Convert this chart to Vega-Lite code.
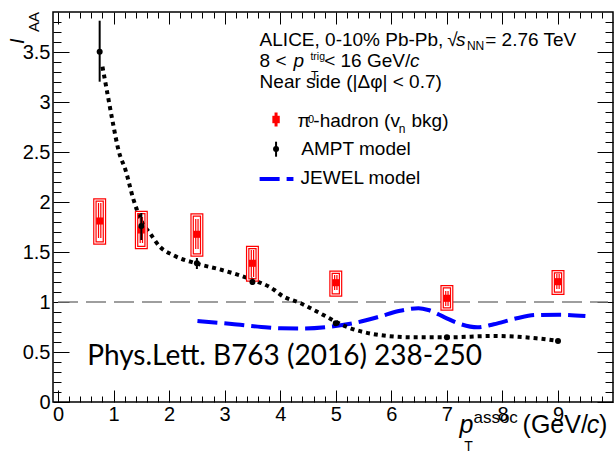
{
  "$schema": "https://vega.github.io/schema/vega-lite/v6.json",
  "width": 560,
  "height": 390,
  "autosize": "none",
  "padding": {"left": 53, "top": 12, "right": 2, "bottom": 51},
  "background": "white",
  "config": {"view": {"stroke": "#000", "strokeWidth": 1.5}, "font": "Liberation Sans"},
  "datasets": {
    "unity": [{"x0": 0, "x1": 9.9, "y": 1}],
    "jewel": [
      {"x": 2.51, "y": 0.81}, {"x": 3.13, "y": 0.78}, {"x": 3.66, "y": 0.75}, {"x": 4.013, "y": 0.737},
      {"x": 4.4, "y": 0.735}, {"x": 4.897, "y": 0.753}, {"x": 5.309, "y": 0.787}, {"x": 5.781, "y": 0.853},
      {"x": 6.134, "y": 0.91}, {"x": 6.488, "y": 0.937}, {"x": 6.665, "y": 0.92}, {"x": 6.96, "y": 0.847},
      {"x": 7.254, "y": 0.777}, {"x": 7.549, "y": 0.747}, {"x": 7.844, "y": 0.777}, {"x": 8.256, "y": 0.837},
      {"x": 8.61, "y": 0.87}, {"x": 9.02, "y": 0.873}, {"x": 9.493, "y": 0.86}
    ],
    "amptCurve": [
      {"x": 0.8, "y": 3.353}, {"x": 0.889, "y": 3.087}, {"x": 0.978, "y": 2.82}, {"x": 1.096, "y": 2.503},
      {"x": 1.215, "y": 2.32}, {"x": 1.361, "y": 2.02}, {"x": 1.508, "y": 1.803}, {"x": 1.656, "y": 1.687},
      {"x": 1.833, "y": 1.553}, {"x": 2.068, "y": 1.47}, {"x": 2.48, "y": 1.387}, {"x": 2.952, "y": 1.32},
      {"x": 3.424, "y": 1.237}, {"x": 3.895, "y": 1.12}, {"x": 4.013, "y": 1.07}, {"x": 4.367, "y": 0.987},
      {"x": 4.72, "y": 0.887}, {"x": 5.192, "y": 0.753}, {"x": 5.781, "y": 0.67}, {"x": 6.37, "y": 0.647},
      {"x": 7.006, "y": 0.647}, {"x": 7.844, "y": 0.66}, {"x": 8.61, "y": 0.637}, {"x": 9.01, "y": 0.61}
    ],
    "red": [
      {"x": 0.75, "y": 1.81, "slo": 1.64, "shi": 1.99, "blo": 1.59, "bhi": 2.02},
      {"x": 1.5, "y": 1.72, "slo": 1.59, "shi": 1.85, "blo": 1.545, "bhi": 1.895},
      {"x": 2.5, "y": 1.677, "slo": 1.53, "shi": 1.83, "blo": 1.47, "bhi": 1.87},
      {"x": 3.5, "y": 1.387, "slo": 1.25, "shi": 1.52, "blo": 1.22, "bhi": 1.545},
      {"x": 5, "y": 1.193, "slo": 1.12, "shi": 1.27, "blo": 1.07, "bhi": 1.297},
      {"x": 7, "y": 1.037, "slo": 0.96, "shi": 1.11, "blo": 0.93, "bhi": 1.153},
      {"x": 9, "y": 1.203, "slo": 1.13, "shi": 1.28, "blo": 1.087, "bhi": 1.303}
    ],
    "ampt": [
      {"x": 0.75, "y": 3.503, "lo": 3.203, "hi": 3.813},
      {"x": 1.5, "y": 1.76, "lo": 1.62, "hi": 1.89},
      {"x": 2.5, "y": 1.387, "lo": 1.33, "hi": 1.44},
      {"x": 3.5, "y": 1.2, "lo": 1.17, "hi": 1.23},
      {"x": 5, "y": 0.787, "lo": 0.77, "hi": 0.8},
      {"x": 7, "y": 0.647, "lo": 0.635, "hi": 0.66},
      {"x": 9, "y": 0.61, "lo": 0.6, "hi": 0.62}
    ],
    "legRed": [{"x": 3.925, "y": 2.825, "lo": 2.755, "hi": 2.895}],
    "legAmpt": [{"x": 3.925, "y": 2.53, "lo": 2.453, "hi": 2.603}],
    "legJewel": [{"x": 3.629, "y": 2.23}, {"x": 4.238, "y": 2.23}],
    "t19": [
      {"x": 3.629, "y": 3.56, "text": "ALICE, 0-10% Pb-Pb,"},
      {"x": 7.006, "y": 3.56, "text": "√"},
      {"x": 7.69, "y": 3.56, "text": "= 2.76 TeV"},
      {"x": 3.629, "y": 3.353, "text": "8 <"},
      {"x": 4.791, "y": 3.353, "text": "< 16 GeV/"},
      {"x": 3.629, "y": 3.137, "text": "Near side (|Δφ| < 0.7)"},
      {"x": 4.309, "y": 2.747, "text": "π"},
      {"x": 4.596, "y": 2.747, "text": "-hadron (v"},
      {"x": 6.364, "y": 2.747, "text": "bkg)"},
      {"x": 4.379, "y": 2.47, "text": "AMPT model"},
      {"x": 4.367, "y": 2.18, "text": "JEWEL model"}
    ],
    "t19i": [
      {"x": 7.165, "y": 3.56, "text": "s"},
      {"x": 4.238, "y": 3.353, "text": "p"},
      {"x": 6.338, "y": 3.353, "text": "c"}
    ],
    "t12": [
      {"x": 7.36, "y": 3.525, "text": "NN"},
      {"x": 4.556, "y": 3.22, "text": "T"},
      {"x": 6.134, "y": 2.693, "text": "n"}
    ],
    "t11": [
      {"x": 4.499, "y": 2.787, "text": "0"}
    ],
    "t10": [
      {"x": 4.543, "y": 3.425, "text": "trig"}
    ],
    "t25": [
      {"x": 8.362, "y": -0.313, "text": "(GeV/"},
      {"x": 9.737, "y": -0.313, "text": ")"}
    ],
    "t25i": [
      {"x": 7.225, "y": -0.313, "text": "p"},
      {"x": 9.517, "y": -0.313, "text": "c"}
    ],
    "t14": [{"x": 7.314, "y": -0.485, "text": "T"}],
    "t17": [{"x": 7.478, "y": -0.213, "text": "assoc"}],
    "tI": [{"x": -0.619, "y": 3.58, "text": "I"}],
    "tAA": [{"x": -0.336, "y": 3.7, "text": "AA"}],
    "tRef": [{"x": 0.525, "y": 0.37, "text": "Phys.Lett. B763 (2016) 238-250"}]
  },
  "layer": [
    {
      "data": {"name": "unity"},
      "mark": {"type": "rule", "color": "#7f7f7f", "strokeWidth": 1.5, "strokeDash": [20, 8]},
      "encoding": {
        "x": {"field": "x0", "type": "quantitative", "scale": {"domain": [0, 9.9], "nice": false, "zero": false},
          "axis": {"orient": "bottom", "title": null, "domain": false, "grid": false,
            "values": [0,0.2,0.4,0.6,0.8,1,1.2,1.4,1.6,1.8,2,2.2,2.4,2.6,2.8,3,3.2,3.4,3.6,3.8,4,4.2,4.4,4.6,4.8,5,5.2,5.4,5.6,5.8,6,6.2,6.4,6.6,6.8,7,7.2,7.4,7.6,7.8,8,8.2,8.4,8.6,8.8,9,9.2,9.4,9.6,9.8],
            "tickSize": {"condition": {"test": "abs(datum.value - round(datum.value)) < 0.001", "value": -12}, "value": -6},
            "tickColor": "#000", "tickWidth": 1,
            "labelExpr": "abs(datum.value - round(datum.value)) < 0.001 ? format(datum.value, 'd') : ''",
            "labelFont": "Liberation Sans", "labelFontSize": 20, "labelColor": "#000", "labelPadding": 14,
            "labelOverlap": false, "labelFlush": false, "labelBound": false}},
        "x2": {"field": "x1"},
        "y": {"field": "y", "type": "quantitative", "scale": {"domain": [0, 3.9], "nice": false, "zero": false},
          "axis": {"orient": "left", "title": null, "domain": false, "grid": false,
            "values": [0,0.1,0.2,0.3,0.4,0.5,0.6,0.7,0.8,0.9,1,1.1,1.2,1.3,1.4,1.5,1.6,1.7,1.8,1.9,2,2.1,2.2,2.3,2.4,2.5,2.6,2.7,2.8,2.9,3,3.1,3.2,3.3,3.4,3.5,3.6,3.7,3.8],
            "tickSize": {"condition": {"test": "abs(datum.value*2 - round(datum.value*2)) < 0.001", "value": -16}, "value": -8},
            "tickColor": "#000", "tickWidth": 1,
            "labelExpr": "abs(datum.value*2 - round(datum.value*2)) < 0.001 ? format(datum.value, '~g') : ''",
            "labelFont": "Liberation Sans", "labelFontSize": 20, "labelColor": "#000", "labelPadding": 19,
            "labelOverlap": false, "labelFlush": false, "labelBound": false}}
      }
    },
    {
      "data": {"name": "jewel"},
      "mark": {"type": "line", "color": "#0000ff", "strokeWidth": 4, "strokeDash": [20, 7], "interpolate": "monotone"},
      "encoding": {
        "x": {"field": "x", "type": "quantitative", "scale": {"domain": [0, 9.9], "nice": false, "zero": false},
          "axis": {"orient": "top", "title": null, "domain": false, "grid": false, "labels": false,
            "values": [0,0.2,0.4,0.6,0.8,1,1.2,1.4,1.6,1.8,2,2.2,2.4,2.6,2.8,3,3.2,3.4,3.6,3.8,4,4.2,4.4,4.6,4.8,5,5.2,5.4,5.6,5.8,6,6.2,6.4,6.6,6.8,7,7.2,7.4,7.6,7.8,8,8.2,8.4,8.6,8.8,9,9.2,9.4,9.6,9.8],
            "tickSize": {"condition": {"test": "abs(datum.value - round(datum.value)) < 0.001", "value": -12}, "value": -6},
            "tickColor": "#000", "tickWidth": 1}},
        "y": {"field": "y", "type": "quantitative", "scale": {"domain": [0, 3.9], "nice": false, "zero": false},
          "axis": {"orient": "right", "title": null, "domain": false, "grid": false, "labels": false,
            "values": [0,0.1,0.2,0.3,0.4,0.5,0.6,0.7,0.8,0.9,1,1.1,1.2,1.3,1.4,1.5,1.6,1.7,1.8,1.9,2,2.1,2.2,2.3,2.4,2.5,2.6,2.7,2.8,2.9,3,3.1,3.2,3.3,3.4,3.5,3.6,3.7,3.8],
            "tickSize": {"condition": {"test": "abs(datum.value*2 - round(datum.value*2)) < 0.001", "value": -16}, "value": -8},
            "tickColor": "#000", "tickWidth": 1}}
      }
    },
    {
      "data": {"name": "amptCurve"},
      "mark": {"type": "line", "color": "#000", "strokeWidth": 4, "strokeDash": [4, 4], "interpolate": "monotone"},
      "encoding": {
        "x": {"field": "x", "type": "quantitative", "scale": {"domain": [0, 9.9], "nice": false, "zero": false}, "axis": null},
        "y": {"field": "y", "type": "quantitative", "scale": {"domain": [0, 3.9], "nice": false, "zero": false}, "axis": null}
      }
    },
    {
      "data": {"name": "red"},
      "mark": {"type": "bar", "filled": false, "stroke": "#ff0000", "strokeWidth": 3.5, "width": 9.5},
      "encoding": {
        "x": {"field": "x", "type": "quantitative", "scale": {"domain": [0, 9.9], "nice": false, "zero": false}, "axis": null},
        "y": {"field": "blo", "type": "quantitative", "scale": {"domain": [0, 3.9], "nice": false, "zero": false}, "axis": null},
        "y2": {"field": "bhi"}
      }
    },
    {
      "data": {"name": "red"},
      "mark": {"type": "bar", "filled": false, "stroke": "#ffffff", "strokeWidth": 1.1, "width": 9.5},
      "encoding": {
        "x": {"field": "x", "type": "quantitative", "scale": {"domain": [0, 9.9], "nice": false, "zero": false}, "axis": null},
        "y": {"field": "blo", "type": "quantitative", "scale": {"domain": [0, 3.9], "nice": false, "zero": false}, "axis": null},
        "y2": {"field": "bhi"}
      }
    },
    {
      "data": {"name": "red"},
      "mark": {"type": "rule", "color": "#ff0000", "strokeWidth": 3.5},
      "encoding": {
        "x": {"field": "x", "type": "quantitative", "scale": {"domain": [0, 9.9], "nice": false, "zero": false}, "axis": null},
        "y": {"field": "slo", "type": "quantitative", "scale": {"domain": [0, 3.9], "nice": false, "zero": false}, "axis": null},
        "y2": {"field": "shi"}
      }
    },
    {
      "data": {"name": "red"},
      "mark": {"type": "rule", "color": "#ffffff", "strokeWidth": 1.1},
      "encoding": {
        "x": {"field": "x", "type": "quantitative", "scale": {"domain": [0, 9.9], "nice": false, "zero": false}, "axis": null},
        "y": {"field": "slo", "type": "quantitative", "scale": {"domain": [0, 3.9], "nice": false, "zero": false}, "axis": null},
        "y2": {"field": "shi"}
      }
    },
    {
      "data": {"name": "red"},
      "mark": {"type": "point", "shape": "square", "filled": true, "color": "#ff0000", "size": 50, "opacity": 1},
      "encoding": {
        "x": {"field": "x", "type": "quantitative", "scale": {"domain": [0, 9.9], "nice": false, "zero": false}, "axis": null},
        "y": {"field": "y", "type": "quantitative", "scale": {"domain": [0, 3.9], "nice": false, "zero": false}, "axis": null}
      }
    },
    {
      "data": {"name": "ampt"},
      "mark": {"type": "rule", "color": "#000", "strokeWidth": 2},
      "encoding": {
        "x": {"field": "x", "type": "quantitative", "scale": {"domain": [0, 9.9], "nice": false, "zero": false}, "axis": null},
        "y": {"field": "lo", "type": "quantitative", "scale": {"domain": [0, 3.9], "nice": false, "zero": false}, "axis": null},
        "y2": {"field": "hi"}
      }
    },
    {
      "data": {"name": "ampt"},
      "mark": {"type": "point", "shape": "circle", "filled": true, "color": "#000", "size": 36, "opacity": 1},
      "encoding": {
        "x": {"field": "x", "type": "quantitative", "scale": {"domain": [0, 9.9], "nice": false, "zero": false}, "axis": null},
        "y": {"field": "y", "type": "quantitative", "scale": {"domain": [0, 3.9], "nice": false, "zero": false}, "axis": null}
      }
    },
    {
      "data": {"name": "legRed"},
      "mark": {"type": "rule", "color": "#ff0000", "strokeWidth": 3},
      "encoding": {
        "x": {"field": "x", "type": "quantitative", "scale": {"domain": [0, 9.9], "nice": false, "zero": false}, "axis": null},
        "y": {"field": "lo", "type": "quantitative", "scale": {"domain": [0, 3.9], "nice": false, "zero": false}, "axis": null},
        "y2": {"field": "hi"}
      }
    },
    {
      "data": {"name": "legRed"},
      "mark": {"type": "point", "shape": "square", "filled": true, "color": "#ff0000", "size": 55, "opacity": 1},
      "encoding": {
        "x": {"field": "x", "type": "quantitative", "scale": {"domain": [0, 9.9], "nice": false, "zero": false}, "axis": null},
        "y": {"field": "y", "type": "quantitative", "scale": {"domain": [0, 3.9], "nice": false, "zero": false}, "axis": null}
      }
    },
    {
      "data": {"name": "legAmpt"},
      "mark": {"type": "rule", "color": "#000", "strokeWidth": 2},
      "encoding": {
        "x": {"field": "x", "type": "quantitative", "scale": {"domain": [0, 9.9], "nice": false, "zero": false}, "axis": null},
        "y": {"field": "lo", "type": "quantitative", "scale": {"domain": [0, 3.9], "nice": false, "zero": false}, "axis": null},
        "y2": {"field": "hi"}
      }
    },
    {
      "data": {"name": "legAmpt"},
      "mark": {"type": "point", "shape": "circle", "filled": true, "color": "#000", "size": 36, "opacity": 1},
      "encoding": {
        "x": {"field": "x", "type": "quantitative", "scale": {"domain": [0, 9.9], "nice": false, "zero": false}, "axis": null},
        "y": {"field": "y", "type": "quantitative", "scale": {"domain": [0, 3.9], "nice": false, "zero": false}, "axis": null}
      }
    },
    {
      "data": {"name": "legJewel"},
      "mark": {"type": "line", "color": "#0000ff", "strokeWidth": 4, "strokeDash": [20, 7]},
      "encoding": {
        "x": {"field": "x", "type": "quantitative", "scale": {"domain": [0, 9.9], "nice": false, "zero": false}, "axis": null},
        "y": {"field": "y", "type": "quantitative", "scale": {"domain": [0, 3.9], "nice": false, "zero": false}, "axis": null}
      }
    },
    {
      "data": {"name": "t19"},
      "mark": {"type": "text", "font": "Liberation Sans", "fontSize": 19, "align": "left", "baseline": "alphabetic", "color": "#000"},
      "encoding": {
        "x": {"field": "x", "type": "quantitative", "scale": {"domain": [0, 9.9], "nice": false, "zero": false}, "axis": null},
        "y": {"field": "y", "type": "quantitative", "scale": {"domain": [0, 3.9], "nice": false, "zero": false}, "axis": null},
        "text": {"field": "text"}
      }
    },
    {
      "data": {"name": "t19i"},
      "mark": {"type": "text", "font": "Liberation Sans", "fontSize": 19, "fontStyle": "italic", "align": "left", "baseline": "alphabetic", "color": "#000"},
      "encoding": {
        "x": {"field": "x", "type": "quantitative", "scale": {"domain": [0, 9.9], "nice": false, "zero": false}, "axis": null},
        "y": {"field": "y", "type": "quantitative", "scale": {"domain": [0, 3.9], "nice": false, "zero": false}, "axis": null},
        "text": {"field": "text"}
      }
    },
    {
      "data": {"name": "t12"},
      "mark": {"type": "text", "font": "Liberation Sans", "fontSize": 12, "align": "left", "baseline": "alphabetic", "color": "#000"},
      "encoding": {
        "x": {"field": "x", "type": "quantitative", "scale": {"domain": [0, 9.9], "nice": false, "zero": false}, "axis": null},
        "y": {"field": "y", "type": "quantitative", "scale": {"domain": [0, 3.9], "nice": false, "zero": false}, "axis": null},
        "text": {"field": "text"}
      }
    },
    {
      "data": {"name": "t11"},
      "mark": {"type": "text", "font": "Liberation Sans", "fontSize": 11, "align": "left", "baseline": "alphabetic", "color": "#000"},
      "encoding": {
        "x": {"field": "x", "type": "quantitative", "scale": {"domain": [0, 9.9], "nice": false, "zero": false}, "axis": null},
        "y": {"field": "y", "type": "quantitative", "scale": {"domain": [0, 3.9], "nice": false, "zero": false}, "axis": null},
        "text": {"field": "text"}
      }
    },
    {
      "data": {"name": "t10"},
      "mark": {"type": "text", "font": "Liberation Sans", "fontSize": 10.5, "align": "left", "baseline": "alphabetic", "color": "#000"},
      "encoding": {
        "x": {"field": "x", "type": "quantitative", "scale": {"domain": [0, 9.9], "nice": false, "zero": false}, "axis": null},
        "y": {"field": "y", "type": "quantitative", "scale": {"domain": [0, 3.9], "nice": false, "zero": false}, "axis": null},
        "text": {"field": "text"}
      }
    },
    {
      "data": {"name": "t25"},
      "mark": {"type": "text", "font": "Liberation Sans", "fontSize": 25, "align": "left", "baseline": "alphabetic", "color": "#000"},
      "encoding": {
        "x": {"field": "x", "type": "quantitative", "scale": {"domain": [0, 9.9], "nice": false, "zero": false}, "axis": null},
        "y": {"field": "y", "type": "quantitative", "scale": {"domain": [0, 3.9], "nice": false, "zero": false}, "axis": null},
        "text": {"field": "text"}
      }
    },
    {
      "data": {"name": "t25i"},
      "mark": {"type": "text", "font": "Liberation Sans", "fontSize": 25, "fontStyle": "italic", "align": "left", "baseline": "alphabetic", "color": "#000"},
      "encoding": {
        "x": {"field": "x", "type": "quantitative", "scale": {"domain": [0, 9.9], "nice": false, "zero": false}, "axis": null},
        "y": {"field": "y", "type": "quantitative", "scale": {"domain": [0, 3.9], "nice": false, "zero": false}, "axis": null},
        "text": {"field": "text"}
      }
    },
    {
      "data": {"name": "t14"},
      "mark": {"type": "text", "font": "Liberation Sans", "fontSize": 14, "align": "left", "baseline": "alphabetic", "color": "#000"},
      "encoding": {
        "x": {"field": "x", "type": "quantitative", "scale": {"domain": [0, 9.9], "nice": false, "zero": false}, "axis": null},
        "y": {"field": "y", "type": "quantitative", "scale": {"domain": [0, 3.9], "nice": false, "zero": false}, "axis": null},
        "text": {"field": "text"}
      }
    },
    {
      "data": {"name": "t17"},
      "mark": {"type": "text", "font": "Liberation Sans", "fontSize": 17, "align": "left", "baseline": "alphabetic", "color": "#000"},
      "encoding": {
        "x": {"field": "x", "type": "quantitative", "scale": {"domain": [0, 9.9], "nice": false, "zero": false}, "axis": null},
        "y": {"field": "y", "type": "quantitative", "scale": {"domain": [0, 3.9], "nice": false, "zero": false}, "axis": null},
        "text": {"field": "text"}
      }
    },
    {
      "data": {"name": "tI"},
      "mark": {"type": "text", "font": "Liberation Sans", "fontSize": 20, "fontStyle": "italic", "angle": 270, "align": "left", "baseline": "alphabetic", "color": "#000"},
      "encoding": {
        "x": {"field": "x", "type": "quantitative", "scale": {"domain": [0, 9.9], "nice": false, "zero": false}, "axis": null},
        "y": {"field": "y", "type": "quantitative", "scale": {"domain": [0, 3.9], "nice": false, "zero": false}, "axis": null},
        "text": {"field": "text"}
      }
    },
    {
      "data": {"name": "tAA"},
      "mark": {"type": "text", "font": "Liberation Sans", "fontSize": 15, "angle": 270, "align": "left", "baseline": "alphabetic", "color": "#000"},
      "encoding": {
        "x": {"field": "x", "type": "quantitative", "scale": {"domain": [0, 9.9], "nice": false, "zero": false}, "axis": null},
        "y": {"field": "y", "type": "quantitative", "scale": {"domain": [0, 3.9], "nice": false, "zero": false}, "axis": null},
        "text": {"field": "text"}
      }
    },
    {
      "data": {"name": "tRef"},
      "mark": {"type": "text", "font": "Lato", "fontSize": 28, "align": "left", "baseline": "alphabetic", "color": "#000"},
      "encoding": {
        "x": {"field": "x", "type": "quantitative", "scale": {"domain": [0, 9.9], "nice": false, "zero": false}, "axis": null},
        "y": {"field": "y", "type": "quantitative", "scale": {"domain": [0, 3.9], "nice": false, "zero": false}, "axis": null},
        "text": {"field": "text"}
      }
    }
  ],
  "resolve": {"axis": {"x": "independent", "y": "independent"}}
}
